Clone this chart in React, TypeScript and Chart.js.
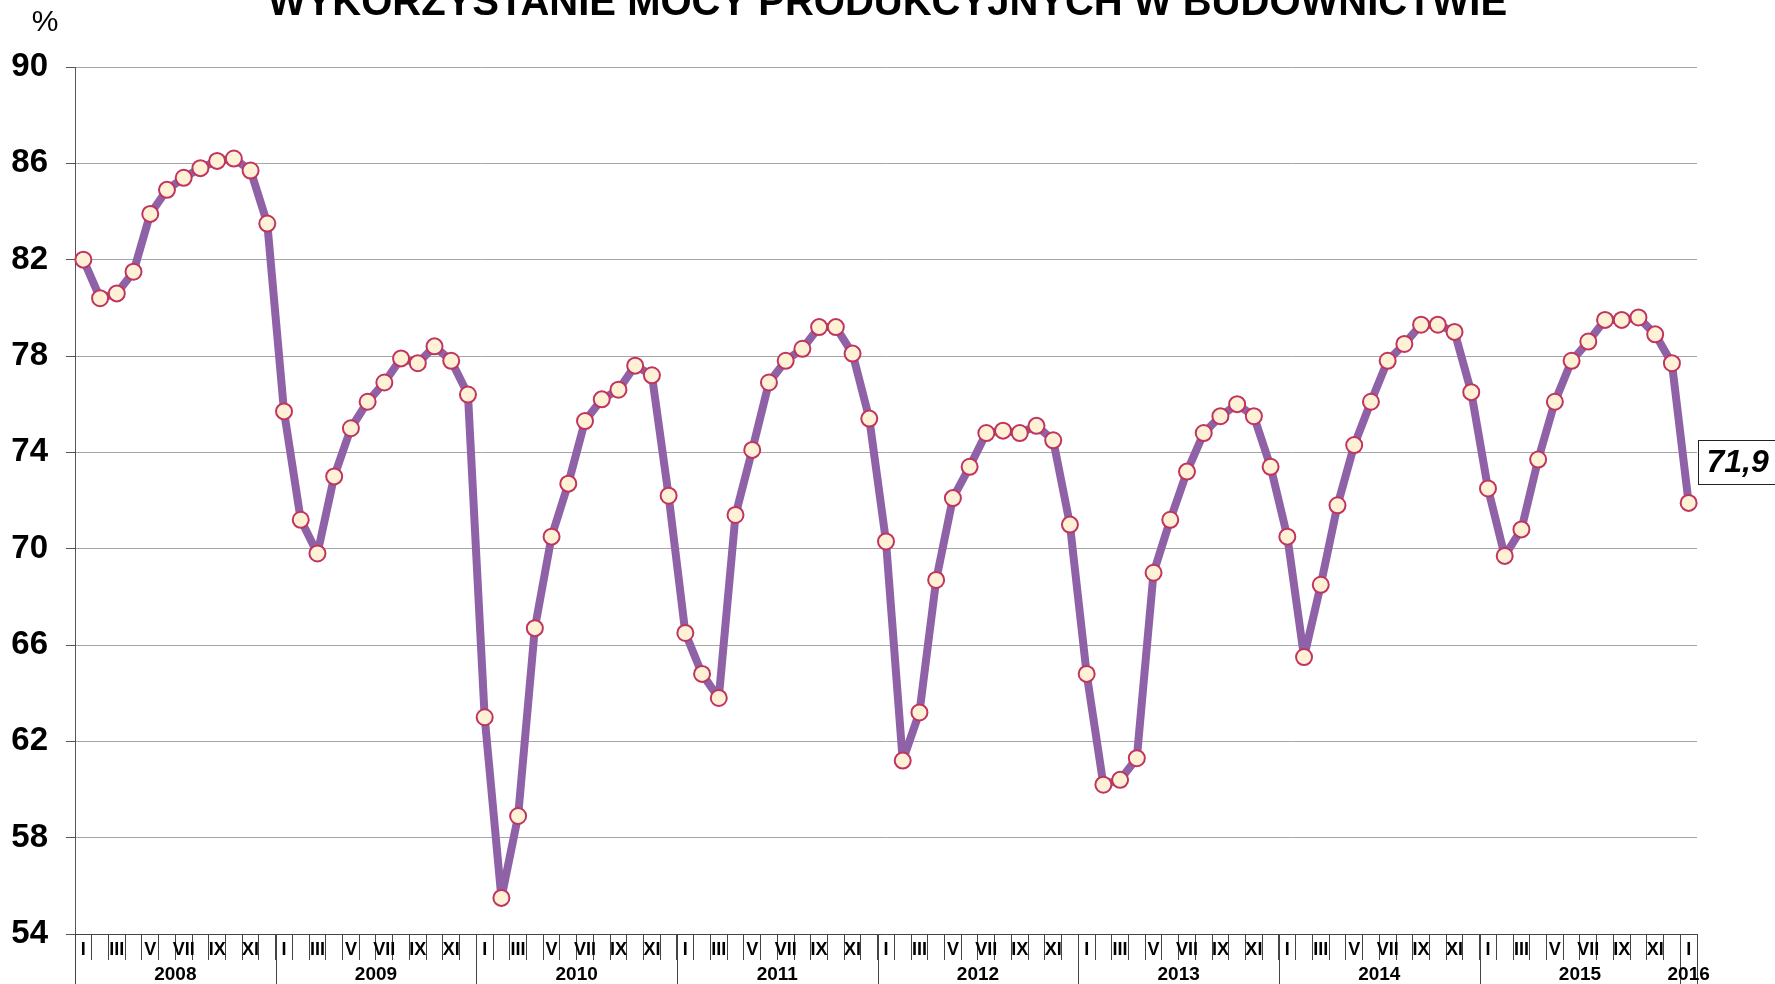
import React, { useEffect, useRef } from 'react';
import { Chart, registerables } from 'chart.js';

Chart.register(...registerables);

const TITLE = 'WYKORZYSTANIE MOCY PRODUKCYJNYCH W BUDOWNICTWIE';
const UNIT = '%';
const YEARS = ['2008', '2009', '2010', '2011', '2012', '2013', '2014', '2015', '2016'];
const MONTHS = ['I', 'II', 'III', 'IV', 'V', 'VI', 'VII', 'VIII', 'IX', 'X', 'XI', 'XII'];

const V2008 = [82.0, 80.4, 80.6, 81.5, 83.9, 84.9, 85.4, 85.8, 86.1, 86.2, 85.7, 83.5];
const V2009 = [75.7, 71.2, 69.8, 73.0, 75.0, 76.1, 76.9, 77.9, 77.7, 78.4, 77.8, 76.4];
const V2010 = [63.0, 55.5, 58.9, 66.7, 70.5, 72.7, 75.3, 76.2, 76.6, 77.6, 77.2, 72.2];
const V2011 = [66.5, 64.8, 63.8, 71.4, 74.1, 76.9, 77.8, 78.3, 79.2, 79.2, 78.1, 75.4];
const V2012 = [70.3, 61.2, 63.2, 68.7, 72.1, 73.4, 74.8, 74.9, 74.8, 75.1, 74.5, 71.0];
const V2013 = [64.8, 60.2, 60.4, 61.3, 69.0, 71.2, 73.2, 74.8, 75.5, 76.0, 75.5, 73.4];
const V2014 = [70.5, 65.5, 68.5, 71.8, 74.3, 76.1, 77.8, 78.5, 79.3, 79.3, 79.0, 76.5];
const V2015 = [72.5, 69.7, 70.8, 73.7, 76.1, 77.8, 78.6, 79.5, 79.5, 79.6, 78.9, 77.7];
const V2016 = [71.9];

const Y_MIN = 54;
const Y_MAX = 90;
const Y_STEP = 4;
const LAST_LABEL = '71,9';

const FONT = '"Liberation Sans", Arial, Helvetica, sans-serif';

export default function App() {
  const ref = useRef<HTMLCanvasElement | null>(null);

  useEffect(() => {
    const canvas = ref.current;
    if (!canvas) return;

    const values = [...V2008, ...V2009, ...V2010, ...V2011, ...V2012, ...V2013, ...V2014, ...V2015, ...V2016];
    const labels = values.map((_, i) => MONTHS[i % 12] + ' ' + YEARS[Math.floor(i / 12)]);
    const n = values.length;

    const decor = {
      id: 'decor',
      afterDraw(chart: any) {
        const { ctx, chartArea } = chart;
        const x = chart.scales.x;
        const y = chart.scales.y;
        const H = chart.height;
        const step = x.getPixelForValue(1) - x.getPixelForValue(0);
        const bottom = chartArea.bottom;
        ctx.save();

        // month labels (odd months)
        ctx.fillStyle = '#000';
        ctx.textAlign = 'center';
        ctx.textBaseline = 'middle';
        ctx.font = 'bold 18px ' + FONT;
        for (let i = 0; i < n; i++) {
          const m = i % 12;
          if (m % 2 === 0) ctx.fillText(MONTHS[m], x.getPixelForValue(i), bottom + 16);
        }

        // year separators
        ctx.strokeStyle = '#444';
        ctx.lineWidth = 1;
        const drawV = (px: number) => {
          const xx = Math.round(px) + 0.5;
          ctx.beginPath();
          ctx.moveTo(xx, bottom);
          ctx.lineTo(xx, H);
          ctx.stroke();
        };
        for (let k = 0; k * 12 < n; k++) {
          drawV(x.getPixelForValue(k * 12) - step / 2);
        }
        drawV(x.getPixelForValue(n - 1) + step / 2);

        // year labels
        ctx.font = 'bold 19px ' + FONT;
        for (let k = 0; k * 12 < n; k++) {
          const s = k * 12;
          const e = Math.min(s + 11, n - 1);
          const cx = (x.getPixelForValue(s) + x.getPixelForValue(e)) / 2;
          ctx.fillText(YEARS[k], cx, bottom + 41);
        }

        // title (clipped at the top)
        ctx.font = 'bold 40px ' + FONT;
        ctx.textBaseline = 'alphabetic';
        ctx.fillText(TITLE, chart.width / 2, 15);

        // unit
        ctx.font = '30px ' + FONT;
        ctx.textBaseline = 'middle';
        ctx.fillText(UNIT, 45, 23);

        // last value label
        const lx = x.getPixelForValue(n - 1);
        const ly = y.getPixelForValue(values[n - 1]);
        const bx = Math.round(lx + 9) + 0.5;
        const by = Math.round(ly - 63) + 0.5;
        ctx.fillStyle = '#fff';
        ctx.fillRect(bx, by, 120, 44);
        ctx.strokeStyle = '#222';
        ctx.lineWidth = 1;
        ctx.strokeRect(bx, by, 120, 44);
        ctx.fillStyle = '#000';
        ctx.textAlign = 'left';
        ctx.font = 'italic bold 32px ' + FONT;
        ctx.fillText(LAST_LABEL, bx + 8, by + 23);

        ctx.restore();
      },
    };

    const chart = new Chart(canvas, {
      type: 'line',
      data: {
        labels,
        datasets: [
          {
            data: values,
            borderColor: '#8F62A8',
            borderWidth: 8,
            borderJoinStyle: 'round',
            tension: 0,
            pointRadius: 8,
            pointBorderWidth: 2,
            pointBackgroundColor: '#FFF1D6',
            pointBorderColor: '#C0345E',
          },
        ],
      },
      options: {
        responsive: false,
        animation: false,
        devicePixelRatio: 1,
        layout: { padding: { top: 67, right: 78, bottom: 0, left: 0 } },
        plugins: {
          legend: { display: false },
          tooltip: { enabled: false },
          title: { display: false },
        },
        scales: {
          x: {
            type: 'category',
            offset: true,
            grid: {
              offset: true,
              drawOnChartArea: false,
              drawTicks: true,
              tickLength: 26,
              color: '#444',
              lineWidth: 1,
            },
            border: { display: true, color: '#444', width: 1 },
            ticks: { display: false, autoSkip: false },
            afterFit: (s: any) => {
              s.height = 50;
            },
          },
          y: {
            min: Y_MIN,
            max: Y_MAX,
            ticks: {
              stepSize: Y_STEP,
              color: '#000',
              font: { family: FONT, size: 33, weight: 'bold' },
              padding: 18,
            },
            grid: {
              color: '#A6A6A6',
              lineWidth: 1,
              tickLength: 9,
              tickColor: '#555',
            },
            border: { display: true, color: '#555', width: 1 },
            afterFit: (s: any) => {
              s.width = 75;
            },
          },
        },
      },
      plugins: [decor],
    } as any);

    return () => chart.destroy();
  }, []);

  return (
    <div style={{ position: 'absolute', left: 0, top: 0, width: 1775, height: 984, background: '#fff' }}>
      <canvas ref={ref} width={1775} height={984} style={{ display: 'block', width: 1775, height: 984 }} />
    </div>
  );
}
